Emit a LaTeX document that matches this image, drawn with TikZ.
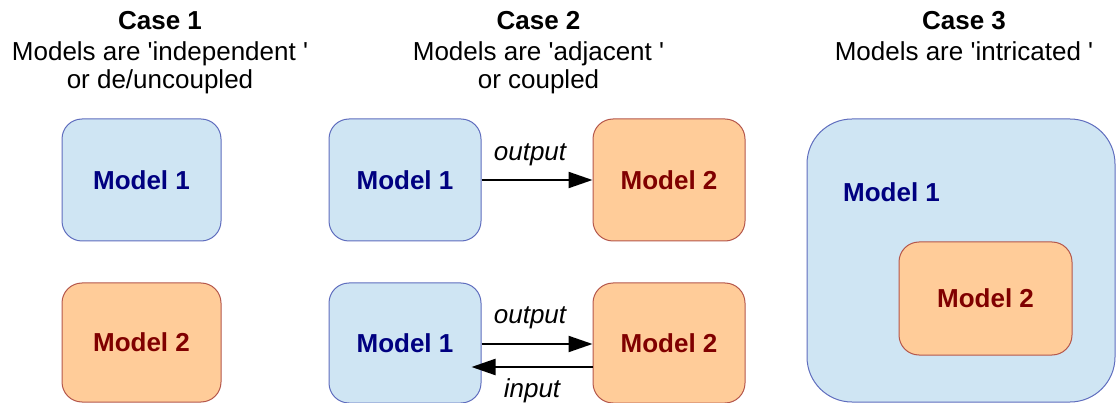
\documentclass[tikz,border=0pt]{standalone}
\usepackage{fontspec}
\setmainfont{Liberation Sans}[Ligatures=TeXOff]
\usetikzlibrary{arrows.meta,positioning}
\definecolor{boxblue}{HTML}{CFE5F3}
\definecolor{lineblue}{HTML}{5F6DBE}
\definecolor{boxorange}{HTML}{FFCC99}
\definecolor{lineorange}{HTML}{B5574B}
\definecolor{textblue}{HTML}{000080}
\definecolor{textred}{HTML}{800000}

\begin{document}
\begin{tikzpicture}[x=1pt, y=-1pt,
  modelA/.style={rectangle, rounded corners=20pt, draw=lineblue, fill=boxblue, line width=1pt, text=textblue, font=\fontsize{26}{30}\selectfont\bfseries},
  modelB/.style={rectangle, rounded corners=20pt, draw=lineorange, fill=boxorange, line width=1pt, text=textred, font=\fontsize{26}{30}\selectfont\bfseries},
  heading/.style={align=center, inner sep=0pt, anchor=north, font=\fontsize{26}{28}\selectfont},
  message/.style={-{Triangle[length=24pt, width=16pt]}, line width=2.2pt},
  msglabel/.style={font=\fontsize{26}{30}\selectfont\itshape}
]
\useasboundingbox (0,0) rectangle (1116,403);

% Case 1
\node[heading] (head1) at (160,11) {\textbf{Case 1}\\[3pt]Models are 'independent '\\or de/uncoupled};
\node[modelA, minimum width=159pt, minimum height=122pt] (c1m1) at (141.5,180) {Model 1};
\node[modelB, minimum width=159pt, minimum height=119pt] (c1m2) at (141.5,342.5) {Model 2};

% Case 2
\node[heading] (head2) at (538.5,11) {\textbf{Case 2}\\[3pt]Models are 'adjacent '\\or coupled};
\node[modelA, minimum width=152pt, minimum height=122pt] (c2m1) at (405,180) {Model 1};
\node[modelB, minimum width=152pt, minimum height=122pt] (c2m2) at (669,180) {Model 2};
\node[modelA, minimum width=152pt, minimum height=120pt] (c2m3) at (405,343) {Model 1};
\node[modelB, minimum width=152pt, minimum height=120pt] (c2m4) at (669,343) {Model 2};

\draw[message] (c2m1) -- (c2m2) node[midway, above=10pt, xshift=-7pt, msglabel] {output};
\draw[message] ([yshift=-1pt]c2m3.east) -- ([yshift=-1pt]c2m4.west) node[midway, above=11pt, xshift=-7pt, msglabel] {output};
\draw[message, shorten >=-10pt] ([yshift=-24pt]c2m4.west) -- ([yshift=-24pt]c2m3.east) node[midway, below=7pt, xshift=-5pt, msglabel] {input};

% Case 3
\node[heading] (head3) at (964,11) {\textbf{Case 3}\\[3pt]Models are 'intricated '};
\node[modelA, rounded corners=45pt, minimum width=308pt, minimum height=283pt] (c3m1) at (961,260.5) {};
\node[text=textblue, font=\fontsize{26}{30}\selectfont\bfseries] (c3t1) at (891.5,192.5) {Model 1};
\node[modelB, minimum width=173pt, minimum height=113pt] (c3m2) at (985.5,298.5) {Model 2};

\end{tikzpicture}
\end{document}
